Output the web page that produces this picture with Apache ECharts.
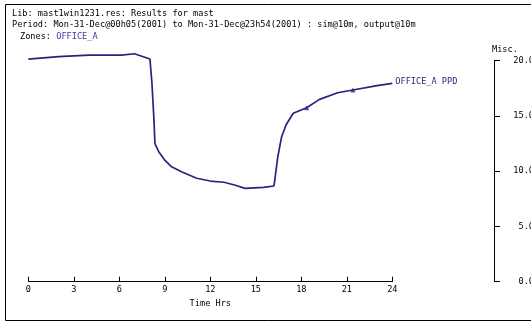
<!DOCTYPE html>
<html><head><meta charset="utf-8">
<script src="https://cdn.jsdelivr.net/npm/echarts@6/dist/echarts.min.js"></script>
<style>html,body{margin:0;padding:0;background:#fff}#c{width:531px;height:325px}</style>
</head><body><div id="c"></div>
<script>
// Data
const hours = [0, 2, 4, 6.15, 7.0, 8.02, 8.15, 8.28, 8.35, 8.6, 9.0, 9.45, 10.1, 11.1, 12.0, 12.9, 13.6, 14.3, 15.5, 16.2, 16.45, 16.7, 17.0, 17.47, 18.35, 19.2, 20.4, 21.4, 23.0, 24.0];
const ppd   = [20.15, 20.36, 20.5, 20.5, 20.63, 20.15, 18.0, 14.8, 12.5, 11.76, 11.0, 10.4, 9.95, 9.36, 9.11, 9.0, 8.75, 8.45, 8.54, 8.66, 11.3, 13.1, 14.2, 15.24, 15.75, 16.5, 17.1, 17.35, 17.74, 17.95];
const markerIdx = [0, 3, 24, 27];
const xTicks = [0, 3, 6, 9, 12, 15, 18, 21, 24];
const yTicks = [0, 5, 10, 15, 20];
const seriesName = 'OFFICE_A PPD';
const headerLib = 'Lib: mast1win1231.res: Results for mast';
const headerPeriod = 'Period: Mon-31-Dec@00h05(2001) to Mon-31-Dec@23h54(2001) : sim@10m, output@10m';
const zonesLabel = 'Zones: ';
const zoneName = 'OFFICE_A';

const FONT = '"DejaVu Sans Mono", "Liberation Mono", monospace';
const FS = 8.6;
const NAVY = '#25257e';

const chart = echarts.init(document.getElementById('c'), null, {renderer: 'canvas'});
const lineData = hours.map((h, i) => [h, ppd[i]]);
const markData = markerIdx.map(i => [hours[i], ppd[i]]);

chart.setOption({
  animation: false,
  backgroundColor: '#fff',
  grid: {left: 28.3, right: 531 - 392.3, top: 60.7, bottom: 325 - 281.7, containLabel: false, outerBoundsMode: 'none'},
  xAxis: {
    type: 'value', min: xTicks[0], max: xTicks[xTicks.length - 1], interval: 3,
    axisLine: {show: true, onZero: false, lineStyle: {color: '#000', width: 1}},
    axisTick: {show: true, inside: true, length: 5, lineStyle: {color: '#000'}},
    splitLine: {show: false},
    axisLabel: {color: '#000', fontFamily: FONT, fontSize: FS, margin: 4},
    name: 'Time Hrs', nameLocation: 'middle', nameGap: 18,
    nameTextStyle: {color: '#000', fontFamily: FONT, fontSize: FS}
  },
  yAxis: {
    type: 'value', position: 'right', offset: 494 - 392.3,
    min: yTicks[0], max: yTicks[yTicks.length - 1], interval: 5,
    axisLine: {show: true, onZero: false, lineStyle: {color: '#000', width: 1}},
    axisTick: {show: true, inside: false, length: 6, lineStyle: {color: '#000'}},
    splitLine: {show: false},
    axisLabel: {color: '#000', fontFamily: FONT, fontSize: FS, margin: 40, align: 'right',
      formatter: v => v.toFixed(1)},
    name: 'Misc.', nameLocation: 'end', nameGap: 6,
    nameTextStyle: {color: '#000', fontFamily: FONT, fontSize: FS, align: 'left', padding: [0, 0, 0, -2]}
  },
  series: [
    {
      type: 'line', name: seriesName, data: lineData, showSymbol: false, smooth: false,
      lineStyle: {color: NAVY, width: 1.7}, itemStyle: {color: NAVY},
      clip: false,
      endLabel: {show: true, formatter: seriesName, color: NAVY, fontFamily: FONT, fontSize: FS, distance: 3, offset: [0, -2]}
    },
    {
      type: 'scatter', data: markData, symbol: 'triangle', symbolSize: 5,
      itemStyle: {color: NAVY}, z: 3
    }
  ],
  graphic: [
    {type: 'rect', shape: {x: 5.5, y: 4.5, width: 540, height: 316}, style: {fill: 'none', stroke: '#000', lineWidth: 1}, silent: true},
    {type: 'text', x: 12, y: 14, style: {text: headerLib, fill: '#000', font: FS + 'px ' + FONT, textVerticalAlign: 'middle'}},
    {type: 'text', x: 12, y: 25, style: {text: headerPeriod, fill: '#000', font: FS + 'px ' + FONT, textVerticalAlign: 'middle'}},
    {type: 'text', x: 20, y: 36.5, style: {text: zonesLabel, fill: '#000', font: FS + 'px ' + FONT, textVerticalAlign: 'middle'}},
    {type: 'text', x: 20 + zonesLabel.length * FS * 0.602, y: 36.5, style: {text: zoneName, fill: '#3a3aa0', font: FS + 'px ' + FONT, textVerticalAlign: 'middle'}}
  ]
});
</script>
</body></html>
